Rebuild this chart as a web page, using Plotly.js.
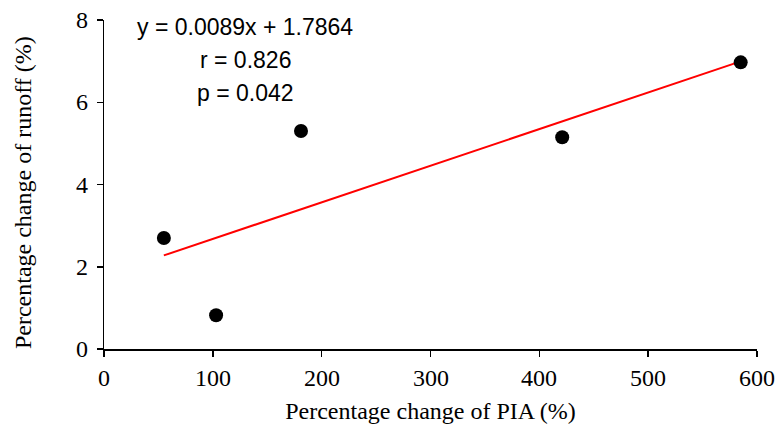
<!DOCTYPE html>
<html>
<head>
<meta charset="utf-8">
<script src="https://cdn.plot.ly/plotly-3.0.1.min.js"></script>
<style>html,body{margin:0;padding:0;background:#fff;}#chart{width:776px;height:435px;}</style>
</head>
<body>
<div id="chart"></div>
<script>
const piaChange = [55, 103, 181, 421, 585];
const runoffChange = [2.7, 0.82, 5.3, 5.15, 6.97];
const slope = 0.0089;
const intercept = 1.7864;
const eqLines = ["y = 0.0089x + 1.7864", "r = 0.826", "p = 0.042"];
const xTicks = [0, 100, 200, 300, 400, 500, 600];
const yTicks = [0, 2, 4, 6, 8];
const xTitle = 'Percentage change of PIA (%)';
const yTitle = 'Percentage change of runoff (%)';

const xMin = Math.min(...piaChange), xMax = Math.max(...piaChange);
const fitX = [xMin, xMax];
const fitY = fitX.map(v => slope * v + intercept);

const traces = [
  {x: fitX, y: fitY, mode: 'lines', line: {color: '#ff0000', width: 2}, hoverinfo: 'skip'},
  {x: piaChange, y: runoffChange, mode: 'markers', marker: {color: '#000', size: 14}}
];

const serif = 'Liberation Serif';
const sans = 'Liberation Sans';
const annY = [0.979, 0.878, 0.778];
const tickFont = {family: serif, size: 24, color: '#000'};

const eqAnn = eqLines.map((t, i) => ({
  text: t, xref: 'paper', yref: 'paper', x: 0.216, y: annY[i],
  xanchor: 'center', yanchor: 'middle', showarrow: false,
  font: {family: sans, size: 23, color: '#000'}
}));
const xTickAnn = xTicks.map(v => ({
  text: String(v), xref: 'x', yref: 'paper', x: v, y: 0,
  xanchor: 'center', yanchor: 'top', yshift: -14, showarrow: false, font: tickFont
}));
const yTickAnn = yTicks.map(v => ({
  text: String(v), xref: 'paper', yref: 'y', x: 0, y: v,
  xanchor: 'right', yanchor: 'middle', xshift: -14, showarrow: false, font: tickFont
}));
const yTitleAnn = [{
  text: yTitle, xref: 'paper', yref: 'paper', x: -0.124, y: 0.474,
  xanchor: 'center', yanchor: 'middle', textangle: -90, showarrow: false,
  font: {family: serif, size: 24, color: '#000'}
}];

const layout = {
  width: 776, height: 435,
  margin: {l: 104, r: 19, t: 20, b: 86},
  showlegend: false,
  font: {family: serif, size: 24, color: '#000'},
  paper_bgcolor: '#fff', plot_bgcolor: '#fff',
  xaxis: {
    range: [0, 600], tickvals: xTicks, showticklabels: false,
    showgrid: false, zeroline: false, showline: true, linecolor: '#000', linewidth: 1.5,
    ticks: 'outside', ticklen: 6, tickwidth: 1.5, tickcolor: '#000',
    title: {text: xTitle, font: {family: serif, size: 24, color: '#000'}, standoff: 46},
    automargin: false
  },
  yaxis: {
    range: [0, 8], tickvals: yTicks, showticklabels: false,
    showgrid: false, zeroline: false, showline: true, linecolor: '#000', linewidth: 1.5,
    ticks: 'outside', ticklen: 6, tickwidth: 1.5, tickcolor: '#000',
    automargin: false
  },
  annotations: eqAnn.concat(xTickAnn, yTickAnn, yTitleAnn)
};

Plotly.newPlot('chart', traces, layout, {displayModeBar: false, staticPlot: true});
</script>
</body>
</html>
